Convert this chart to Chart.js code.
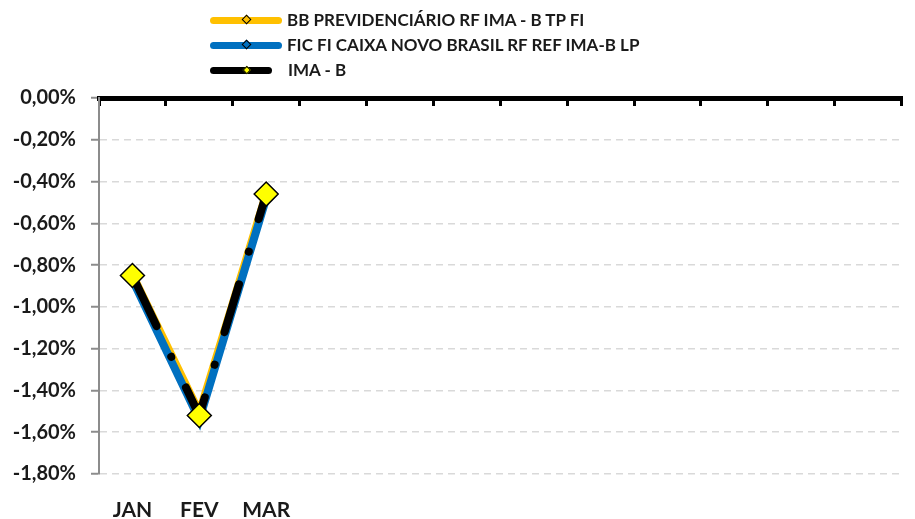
<!DOCTYPE html>
<html><head><meta charset="utf-8">
<script src="https://cdn.jsdelivr.net/npm/chart.js@4/dist/chart.umd.min.js"></script>
<style>
html,body{margin:0;padding:0;background:#fff;}
#wrap{position:relative;width:915px;height:519px;overflow:hidden;}
#c{position:absolute;left:0;top:0;}
.ln{position:absolute;height:7px;border-radius:3.5px;}
.dm{position:absolute;transform:rotate(45deg);box-sizing:border-box;border:1.5px solid #000;}
.tx{position:absolute;font:bold 17px Lato, sans-serif;color:#1a1a1a;white-space:nowrap;line-height:20px;}
</style>
</head><body>
<div id="wrap">
<canvas id="c" width="915" height="519"></canvas>
<div id="legend"></div>
</div>
<script>
const months = ['JAN','FEV','MAR','ABR','MAI','JUN','JUL','AGO','SET','OUT','NOV','DEZ'];
const tickLabels = ['JAN','FEV','MAR','','','','','','','','',''];
const seriesNames = ['BB PREVIDENCIÁRIO RF IMA - B TP FI','FIC FI CAIXA NOVO BRASIL RF REF IMA-B LP','IMA - B'];
const bbValues = [-0.84,-1.50,-0.45,null,null,null,null,null,null,null,null,null];
const caixaValues = [-0.87,-1.54,-0.48,null,null,null,null,null,null,null,null,null];
const imabValues = [-0.85,-1.52,-0.46,null,null,null,null,null,null,null,null,null];
const yMin = -1.8, yMax = 0, yStep = 0.2;
const lineColors = ['#FFC000','#0070C0','#000000'];

// HTML legend
const legendRows = [
  {y:20, x1:210, x2:282, mk:10, mkFill:lineColors[0]},
  {y:45, x1:210, x2:282, mk:10, mkFill:lineColors[1]},
  {y:70, x1:210, x2:272, mk:8, mkFill:'#FFFF00'}
];
const leg = document.getElementById('legend');
legendRows.forEach((r,i)=>{
  const ln = document.createElement('div'); ln.className='ln';
  ln.style.left=r.x1+'px'; ln.style.top=(r.y-3.5)+'px'; ln.style.width=(r.x2-r.x1)+'px'; ln.style.background=lineColors[i];
  leg.appendChild(ln);
  const s = r.mk/Math.SQRT2;
  const dm = document.createElement('div'); dm.className='dm';
  dm.style.width=s+'px'; dm.style.height=s+'px'; dm.style.left=(247-s/2)+'px'; dm.style.top=(r.y-s/2)+'px'; dm.style.background=r.mkFill;
  leg.appendChild(dm);
  const tx = document.createElement('div'); tx.className='tx';
  tx.textContent=seriesNames[i]; tx.style.left=(i===2?288:287)+'px'; tx.style.top=(r.y-10)+'px';
  leg.appendChild(tx);
});

const font = (s)=>({family:'Lato, sans-serif', weight:'bold', size:s});
new Chart(document.getElementById('c'), {
  type:'line',
  data:{labels: tickLabels, datasets:[
    {label:seriesNames[0], data:bbValues, borderColor:lineColors[0], backgroundColor:lineColors[0], borderWidth:7,
     pointStyle:'rectRot', pointRadius:6, pointBackgroundColor:lineColors[0], pointBorderColor:'#000', pointBorderWidth:1.5, order:2, tension:0},
    {label:seriesNames[1], data:caixaValues, borderColor:lineColors[1], backgroundColor:lineColors[1], borderWidth:8,
     pointStyle:'rectRot', pointRadius:6, pointBackgroundColor:lineColors[1], pointBorderColor:'#000', pointBorderWidth:1.5, order:1, tension:0},
    {label:seriesNames[2], data:imabValues, borderColor:lineColors[2], backgroundColor:'#FFFF00', borderWidth:8,
     borderDash:[50,34,0.1,34], borderDashOffset:-6, borderCapStyle:'round',
     pointStyle:'rectRot', pointRadius:12, pointBackgroundColor:'#FFFF00', pointBorderColor:'#000', pointBorderWidth:1.5, order:0, tension:0}
  ]},
  options:{
    responsive:false, animation:false, devicePixelRatio:1,
    layout:{padding:{top:98,left:0,right:1,bottom:0}},
    plugins:{legend:{display:false}, tooltip:{enabled:false}},
    scales:{
      x:{type:'category', position:'bottom', offset:true,
         grid:{display:false, drawTicks:false}, border:{display:false},
         ticks:{color:'#1a1a1a', font:font(21), padding:24, maxRotation:0, autoSkip:false},
         afterFit(s){ s.height = 45; }},
      x2:{type:'category', position:'top', display:true, labels:tickLabels, offset:true,
         grid:{offset:true, drawOnChartArea:false, drawTicks:true, tickLength:-8, tickColor:'#000', tickWidth:3},
         border:{display:true, color:'#000', width:5},
         ticks:{display:false},
         afterFit(s){ s.height = 0; }},
      y:{min:yMin, max:yMax,
         ticks:{stepSize:yStep, color:'#1a1a1a', font:font(20), padding:15,
                callback:(v)=> (Math.abs(v)<1e-9?0:v).toFixed(2).replace('.',',')+'%'},
         grid:{color:(c)=> (c.tick && Math.abs(c.tick.value)<1e-9) ? 'rgba(0,0,0,0)' : '#d9d9d9',
               lineWidth:1.5, tickColor:'#8c8c8c', tickWidth:2, tickLength:8},
         border:{color:'#8c8c8c', width:2, dash:[7,5]},
         afterFit(s){ s.width = 99; }}
    }
  }
});
</script>
</body></html>
